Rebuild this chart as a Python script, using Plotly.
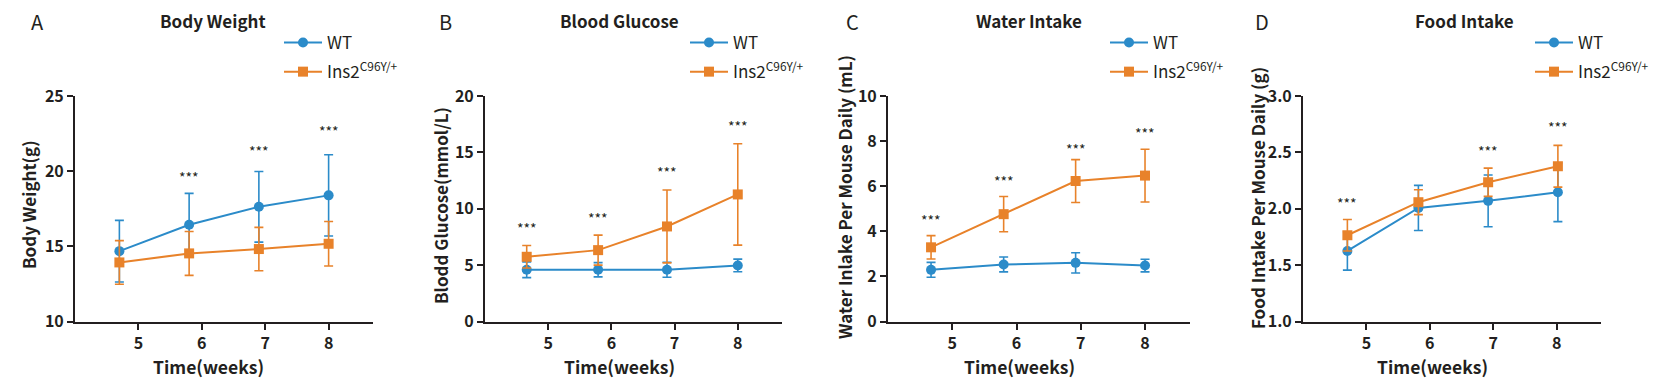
import plotly.graph_objects as go

W, H = 1671, 387
OFF = 8                      # default page margin of the html body
FW, FH = W - 2 * OFF, H - 2 * OFF

# ---------------- data ----------------
weeks = [5, 6, 7, 8]

bw_x = [4.7, 5.8, 6.9, 8.0]
bw_wt = [14.68, 16.44, 17.63, 18.39]
bw_wt_sd = [2.05, 2.08, 2.35, 2.7]
bw_ki = [13.93, 14.53, 14.82, 15.17]
bw_ki_sd = [1.45, 1.46, 1.44, 1.48]
bw_star_x = [5.8, 6.9, 8.0]
bw_star_y = [19.81, 21.56, 22.87]

bg_x = [4.66, 5.79, 6.88, 8.0]
bg_wt = [4.59, 4.59, 4.59, 4.97]
bg_wt_sd = [0.7, 0.63, 0.67, 0.56]
bg_ki = [5.74, 6.33, 8.43, 11.27]
bg_ki_sd = [1.0, 1.33, 3.23, 4.5]
bg_star_x = [4.66, 5.79, 6.88, 8.0]
bg_star_y = [8.52, 9.44, 13.49, 17.6]

wi_x = [4.67, 5.8, 6.92, 8.0]
wi_wt = [2.29, 2.53, 2.6, 2.48]
wi_wt_sd = [0.33, 0.33, 0.45, 0.28]
wi_ki = [3.29, 4.76, 6.23, 6.47]
wi_ki_sd = [0.52, 0.78, 0.95, 1.17]
wi_star_x = [4.67, 5.8, 6.92, 8.0]
wi_star_y = [4.62, 6.35, 7.78, 8.49]

fi_x = [4.7, 5.82, 6.92, 8.02]
fi_wt = [1.626, 2.007, 2.07, 2.146]
fi_wt_sd = [0.17, 0.2, 0.23, 0.26]
fi_ki = [1.765, 2.058, 2.235, 2.377]
fi_ki_sd = [0.14, 0.11, 0.125, 0.185]
fi_star_x = [4.7, 6.92, 8.02]
fi_star_y = [2.08, 2.54, 2.75]

series_names = ["WT", "Ins2<sup>C96Y/+</sup>"]
panel_letters = ["A", "B", "C", "D"]
panel_titles = ["Body Weight", "Blood Glucose", "Water Intake", "Food Intake"]
y_titles = ["Body Weight(g)", "Blodd Glucose(mmol/L)",
            "Water Inlake Per Mouse Daily (mL)", "Food Intake Per Mouse Daily (g)"]
x_title = "Time(weeks)"
y_ranges = [[10, 25], [0, 20], [0, 10], [1.0, 3.0]]
y_dticks = [5, 5, 2, 0.5]
star_text = "***"

# ---------------- styles ----------------
BLUE = "#2B8BC9"
ORANGE = "#E8822A"
AX = "#231F20"
FONT = "Noto Sans CJK SC"

panels = [
    (bw_x, bw_wt, bw_wt_sd, bw_ki, bw_ki_sd, bw_star_x, bw_star_y),
    (bg_x, bg_wt, bg_wt_sd, bg_ki, bg_ki_sd, bg_star_x, bg_star_y),
    (wi_x, wi_wt, wi_wt_sd, wi_ki, wi_ki_sd, wi_star_x, wi_star_y),
    (fi_x, fi_wt, fi_wt_sd, fi_ki, fi_ki_sd, fi_star_x, fi_star_y),
]

# pixel layout (page pixels)
x_dom_px = [(75, 373), (485, 782), (888, 1190), (1303, 1601)]
y_dom_px = (96, 321.5)
title_cx = [213, 619, 1029, 1464]
letter_cx = [37, 445, 852, 1262]
ytitle_cx = [28, 440, 844, 1257]
ytitle_cy = [205, 206, 197, 198]
xtitle_cx = [208, 619, 1019, 1432]
legend_marker_px = [304, 710, 1130, 1555]
legend_top_px = 25

fig = go.Figure()

def px2x(p):
    return (p - OFF) / FW

def px2y(p):
    return 1 - (p - OFF) / FH

annotations = []
layout_axes = {}

for i, (xs, wt, wt_sd, ki, ki_sd, sx, sy) in enumerate(panels):
    n = "" if i == 0 else str(i + 1)
    xa, ya = "x" + n, "y" + n
    leg = "legend" + n
    for name, ys, sd, col, sym, sz in [
        (series_names[0], wt, wt_sd, BLUE, "circle", 10),
        (series_names[1], ki, ki_sd, ORANGE, "square", 10),
    ]:
        fig.add_trace(go.Scatter(
            x=xs, y=ys, xaxis=xa, yaxis=ya, name=name, legend=leg,
            legendgroup=f"{i}-{name}",
            mode="lines+markers",
            line=dict(color=col, width=2),
            marker=dict(color=col, symbol=sym, size=sz),
            error_y=dict(type="data", array=sd, visible=True, color=col,
                         thickness=1.6, width=4.5),
            cliponaxis=False,
        ))
    for xv, yv in zip(sx, sy):
        annotations.append(dict(x=xv, y=yv, xref=xa, yref=ya, text=star_text,
                                showarrow=False, yanchor="middle", yshift=-3,
                                font=dict(family=FONT, size=14, color=AX)))
    x0, x1 = x_dom_px[i]
    layout_axes["xaxis" + n] = dict(
        domain=[px2x(x0), px2x(x1)], anchor=ya, range=[4, 8.7],
        tickmode="array", tickvals=weeks, ticktext=[str(w) for w in weeks],
        showline=True, linecolor=AX, linewidth=2, ticks="outside",
        ticklen=6, tickwidth=2, tickcolor=AX, showgrid=False, zeroline=False,
        tickfont=dict(family=FONT, size=16, color=AX, weight="bold"),
    )
    layout_axes["yaxis" + n] = dict(
        domain=[px2y(y_dom_px[1]), px2y(y_dom_px[0])], anchor=xa,
        range=y_ranges[i], dtick=y_dticks[i], tick0=y_ranges[i][0],
        tickformat=".1f" if i == 3 else "d",
        showline=True, linecolor=AX, linewidth=2, ticks="outside",
        ticklen=6, tickwidth=2, tickcolor=AX, showgrid=False, zeroline=False,
        tickfont=dict(family=FONT, size=16, color=AX, weight="bold"),
    )
    layout_axes[leg] = dict(
        x=px2x(legend_marker_px[i] - 25), y=px2y(legend_top_px),
        xref="paper", yref="paper",
        xanchor="left", yanchor="top", bgcolor="rgba(0,0,0,0)",
        font=dict(family=FONT, size=17, color=AX), tracegroupgap=4,
        itemwidth=38,
    )
    # titles & labels
    annotations.append(dict(x=px2x(title_cx[i]), y=px2y(20.5), xref="paper", yref="paper",
                            text=f"<b>{panel_titles[i]}</b>", showarrow=False,
                            xanchor="center", yanchor="middle",
                            font=dict(family=FONT, size=17, color=AX)))
    annotations.append(dict(x=px2x(letter_cx[i]), y=px2y(21.5), xref="paper", yref="paper",
                            text=panel_letters[i], showarrow=False,
                            xanchor="center", yanchor="middle",
                            font=dict(family=FONT, size=20, color=AX)))
    annotations.append(dict(x=px2x(ytitle_cx[i]), y=px2y(ytitle_cy[i]), xref="paper", yref="paper",
                            text=f"<b>{y_titles[i]}</b>", showarrow=False, textangle=-90,
                            xanchor="center", yanchor="middle",
                            font=dict(family=FONT, size=17, color=AX)))
    annotations.append(dict(x=px2x(xtitle_cx[i]), y=px2y(366), xref="paper", yref="paper",
                            text=f"<b>{x_title}</b>", showarrow=False,
                            xanchor="center", yanchor="middle",
                            font=dict(family=FONT, size=17.5, color=AX)))

fig.update_layout(
    width=FW, height=FH, margin=dict(l=0, r=0, t=0, b=0, autoexpand=False),
    paper_bgcolor="white", plot_bgcolor="white",
    annotations=annotations, showlegend=True,
    **layout_axes,
)

fig.write_html("out.html")
